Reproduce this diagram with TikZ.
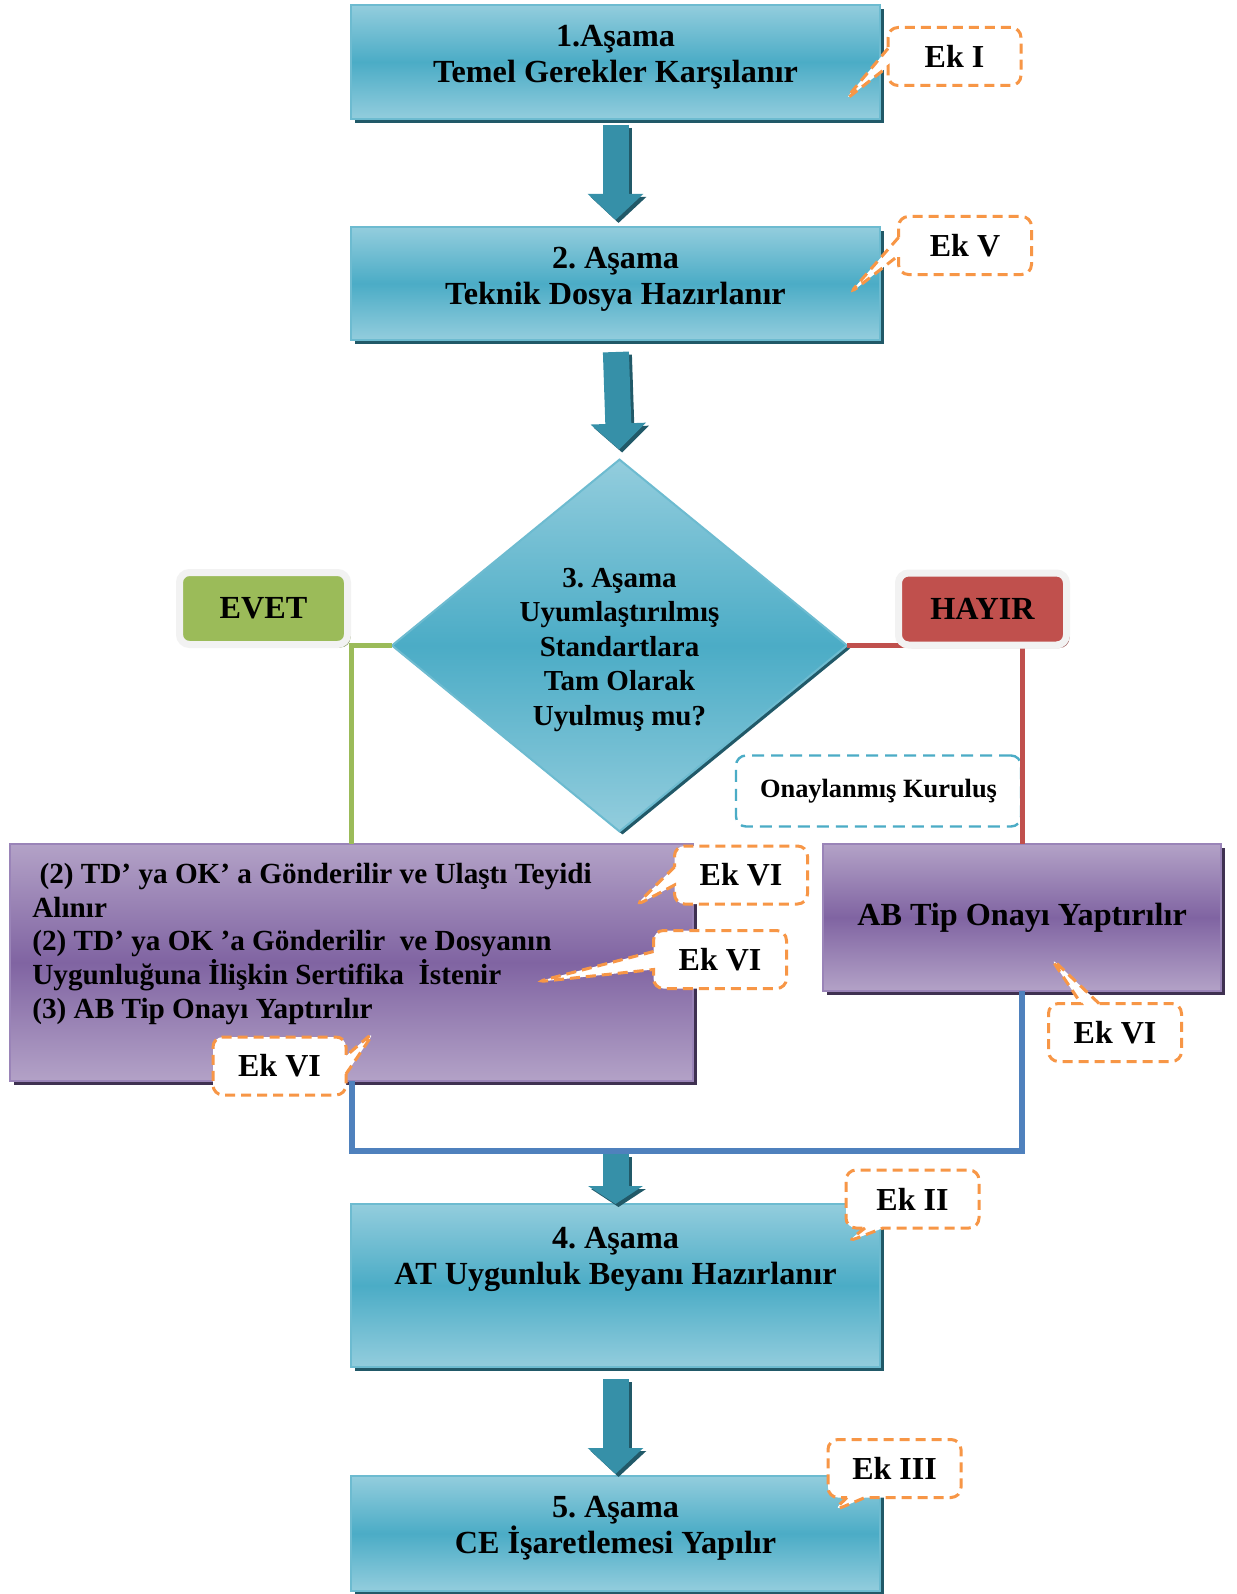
\documentclass[tikz,border=0pt]{standalone}
\usepackage{fontspec}
\setmainfont{Liberation Serif}
\usetikzlibrary{shapes.geometric,shapes.callouts,shadows,arrows.meta}
\definecolor{tealtop}{HTML}{93CDDD}
\definecolor{tealmid}{HTML}{4BACC6}
\definecolor{tealedge}{HTML}{6DBBD0}
\definecolor{tealshade}{HTML}{215968}
\definecolor{arrowteal}{HTML}{3690A8}
\definecolor{lilatop}{HTML}{B3A2C7}
\definecolor{lilamid}{HTML}{8064A2}
\definecolor{lilaedge}{HTML}{9A84B8}
\definecolor{lilashade}{HTML}{3F3151}
\definecolor{evetgreen}{HTML}{9BBB59}
\definecolor{hayirred}{HTML}{C0504D}
\definecolor{abblue}{HTML}{4F81BD}
\definecolor{ekorange}{HTML}{F79646}
\definecolor{framegray}{HTML}{F2F2F2}
\frenchspacing
\begin{document}
\begin{tikzpicture}[x=0.5pt,y=-0.5pt,
	stage/.style={rectangle,minimum width=264.5pt,draw=tealedge,line width=1pt,top color=tealtop,bottom color=tealtop,middle color=tealmid,drop shadow={shadow xshift=2pt,shadow yshift=-2pt,fill=tealshade,opacity=1},inner sep=0pt,outer sep=0pt},
	stagefont/.style={font=\fontsize{16.1}{18}\selectfont\bfseries},
	stagetext/.style={stagefont,align=center,inner sep=0pt},
	karar/.style={diamond,minimum width=227.5pt,minimum height=185.5pt,draw=tealedge,line width=1pt,top color=tealtop,bottom color=tealtop,middle color=tealmid,drop shadow={shadow xshift=1.5pt,shadow yshift=-1.5pt,fill=tealshade,opacity=1},inner sep=0pt,outer sep=0pt,align=center,font=\fontsize{14.5}{17.25}\selectfont\bfseries},
	lila/.style={rectangle,draw=lilaedge,line width=1pt,top color=lilatop,bottom color=lilatop,middle color=lilamid,drop shadow={shadow xshift=2pt,shadow yshift=-2pt,fill=lilashade,opacity=1},inner sep=0pt,outer sep=0pt},
	lilatext/.style={align=left,inner sep=0pt,font=\fontsize{14.6}{16.9}\selectfont\bfseries},
	choice/.style={rectangle,rounded corners=5pt,draw=framegray,line width=3.5pt,minimum width=84pt,minimum height=36pt,inner sep=0pt,stagefont},
	onay/.style={rectangle,rounded corners=5pt,draw=tealmid,fill=white,line width=1.2pt,dash pattern=on 6pt off 3.5pt,minimum width=142.5pt,minimum height=35.5pt,inner sep=0pt,font=\fontsize{13.2}{16}\selectfont\bfseries},
	ek/.style={rectangle callout,draw=ekorange,fill=white,line width=1.5pt,dash pattern=on 5pt off 3pt,rounded corners=5pt,minimum width=66.5pt,minimum height=29pt,callout pointer width=9pt,inner sep=0pt,font=\fontsize{16}{19}\selectfont\bfseries},
	evetline/.style={draw=evetgreen,line width=2.5pt},
	hayirline/.style={draw=hayirred,line width=2.5pt},
	abline/.style={draw=abblue,line width=3pt},
	blockarrow/.style={draw=arrowteal,line width=13pt,-{Triangle[length=#1,width=27pt]}},
	blockarrow/.default=13pt,
	blockshadow/.style={draw=tealshade,line width=13pt,-{Triangle[length=#1,width=27pt]},transform canvas={xshift=1.5pt,yshift=-1.5pt}},
	blockshadow/.default=13pt]
	\fill[white] (0,0) rectangle (1236,1594);
	\useasboundingbox (0,0) rectangle (1236,1594);
	\node[stage,minimum height=57pt] (s1) at (615.5,62) {};
	\node[stagetext] (t1) at (615.5,57) {1.Aşama\\Temel Gerekler Karşılanır};
	\node[stage,minimum height=56.5pt] (s2) at (615.5,283.5) {};
	\node[stagetext] (t2) at (615.5,279) {2. Aşama\\Teknik Dosya Hazırlanır};
	\node[karar] (d3) at (619.5,645.5) {\rule{0pt}{13.9pt}3. Aşama\\Uyumlaştırılmış\\Standartlara\\Tam Olarak\\Uyulmuş mu?};
	\node[lila,minimum width=341.5pt,minimum height=118.5pt] (p1) at (351.5,962.5) {};
	\node[lilatext,anchor=west] (t3) at (32,944) {\hspace*{3.6pt}(2) TD’ ya OK’ a Gönderilir ve Ulaştı Teyidi\\Alınır\\(2) TD’ ya OK ’a Gönderilir\ \ ve Dosyanın\\Uygunluğuna İlişkin Sertifika\ \ İstenir\\(3) AB Tip Onayı Yaptırılır};
	\node[lila,minimum width=199pt,minimum height=73.5pt,stagefont] (p2) at (1022,917.5) {AB Tip Onayı Yaptırılır};
	\node[onay] (ok) at (878.5,791) {Onaylanmış Kuruluş};
	\coordinate (j) at (615.5,1151);
	\node[stage,minimum height=81.5pt] (s4) at (615.5,1285.5) {};
	\node[stagetext] (t4) at (615.5,1259) {4. Aşama\\AT Uygunluk Beyanı Hazırlanır};
	\node[stage,minimum height=57.5pt] (s5) at (615.5,1533.5) {};
	\node[stagetext] (t5) at (615.5,1528) {5. Aşama\\CE İşaretlemesi Yapılır};
	\draw[blockshadow,shorten <=3pt,shorten >=3.5pt] (s1.south) -- (s2.north);
	\draw[blockarrow,shorten <=3pt,shorten >=3.5pt] (s1.south) -- (s2.north);
	\draw[blockshadow,shorten <=6pt,shorten >=5pt] (s2.south) -- (d3.north);
	\draw[blockarrow,shorten <=6pt,shorten >=5pt] (s2.south) -- (d3.north);
	\draw[blockshadow=9pt,shorten <=1.5pt] (j) -- (s4.north);
	\draw[blockarrow=9pt,shorten <=1.5pt] (j) -- (s4.north);
	\draw[blockshadow,shorten <=6pt,shorten >=1pt] (s4.south) -- (s5.north);
	\draw[blockarrow,shorten <=6pt,shorten >=1pt] (s4.south) -- (s5.north);
	\draw[evetline] (d3.west) -| (p1.north);
	\draw[hayirline] (d3.east) -| (p2.north);
	\draw[abline] (p1.south) |- (j);
	\draw[abline] (p2.south) |- (j);
	\node[choice,fill=evetgreen,drop shadow={shadow xshift=1.5pt,shadow yshift=-1.5pt,fill=evetgreen!55!gray,opacity=1}] (evet) at (263.5,608.5) {EVET};
	\node[choice,fill=hayirred,drop shadow={shadow xshift=1.5pt,shadow yshift=-1.5pt,fill=hayirred!55!gray,opacity=1}] (hayir) at (982.5,609) {HAYIR};
	\node[ek,callout absolute pointer={(844,101)}] (ek1) at (954.5,56.5) {Ek I};
	\node[ek,callout absolute pointer={(849,294)}] (ek5) at (965,245.5) {Ek V};
	\node[ek,callout absolute pointer={(635,906)}] (ek6a) at (741,875) {Ek VI};
	\node[ek,callout absolute pointer={(536,982)}] (ek6b) at (720,959.5) {Ek VI};
	\node[ek,callout absolute pointer={(375,1031)}] (ek6c) at (279.5,1066) {Ek VI};
	\node[ek,callout absolute pointer={(1050,957)}] (ek6d) at (1115,1032.5) {Ek VI};
	\node[ek,callout absolute pointer={(847,1242)}] (ek2) at (912.5,1199) {Ek II};
	\node[ek,callout absolute pointer={(833,1511)}] (ek3) at (894.5,1468.5) {Ek III};
\end{tikzpicture}
\end{document}
